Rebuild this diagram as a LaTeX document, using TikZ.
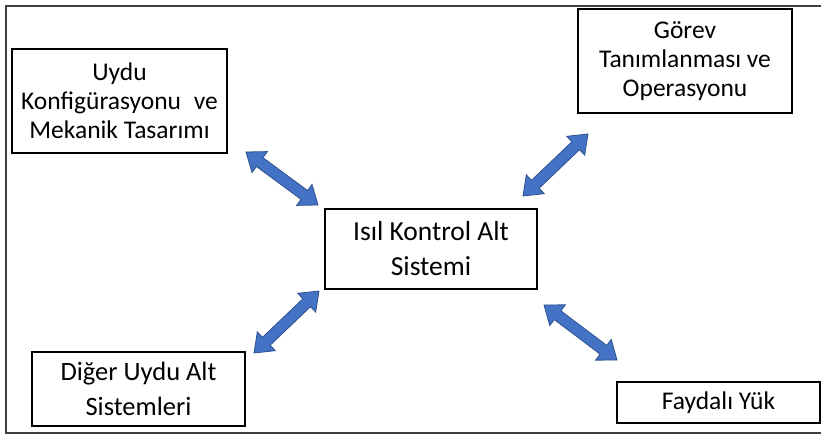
\documentclass[tikz,border=0pt]{standalone}
\usepackage{fontspec}
\setmainfont{Carlito}
\usetikzlibrary{calc}
\definecolor{arrfill}{HTML}{4472C4}
\definecolor{arrline}{HTML}{2F528F}
\definecolor{framecol}{HTML}{404040}
\tikzset{
  box/.style={draw=black, line width=1.2pt, fill=white, align=center, inner sep=0pt,
    font=\fontsize{25.5}{29}\selectfont},
  blockarrow/.style={fill=arrfill, draw=arrline, line width=0.8pt, line join=miter}
}
\newcommand{\dblarrow}[2]{%
  \coordinate (hA) at ($(#1)!17pt!(#2)$);
  \coordinate (hB) at ($(#2)!17pt!(#1)$);
  \filldraw[blockarrow] (#1)
    -- ($(hA)!13pt!90:(#2)$) -- ($(hA)!5.5pt!90:(#2)$)
    -- ($(hB)!5.5pt!-90:(#1)$) -- ($(hB)!13pt!-90:(#1)$)
    -- (#2)
    -- ($(hB)!13pt!90:(#1)$) -- ($(hB)!5.5pt!90:(#1)$)
    -- ($(hA)!5.5pt!-90:(#2)$) -- ($(hA)!13pt!-90:(#2)$)
    -- cycle;
}
\begin{document}
\begin{tikzpicture}[x=1pt,y=-1pt]
\useasboundingbox (0,0) rectangle (821,435);
\fill[white] (0,0) rectangle (821,435);
\draw[framecol, line width=1.8pt] (830,6) -- (6,6) -- (6,433) -- (830,433);

\node[box, minimum width=215pt, minimum height=104pt] (uydu) at (119.5,101)
  {Uydu\\Konfigürasyonu\hspace{0.5em}ve\\Mekanik Tasarımı};
\node[box, minimum width=214pt, minimum height=104pt] (gorev) at (685,61)
  {Görev\\Tanımlanması ve\\Operasyonu};
\node[box, minimum width=212pt, minimum height=80pt,
  font=\fontsize{27.5}{35}\selectfont] (isil) at (431,249)
  {Isıl Kontrol Alt\\Sistemi};
\node[box, minimum width=213pt, minimum height=74pt,
  font=\fontsize{26.5}{35}\selectfont] (diger) at (138.5,389)
  {Diğer Uydu Alt\\Sistemleri};
\node[box, minimum width=203pt, minimum height=41pt] (yuk) at (718.5,402.5)
  {Faydalı Yük};

\coordinate (a1s) at (246,152);
\coordinate (a1e) at (318,205);
\coordinate (a2s) at (523,196);
\coordinate (a2e) at (588,134);
\coordinate (a3s) at (319,291);
\coordinate (a3e) at (254,353);
\coordinate (a4s) at (544,305);
\coordinate (a4e) at (617,360);

\dblarrow{a1s}{a1e}
\dblarrow{a2s}{a2e}
\dblarrow{a3s}{a3e}
\dblarrow{a4s}{a4e}
\end{tikzpicture}
\end{document}
